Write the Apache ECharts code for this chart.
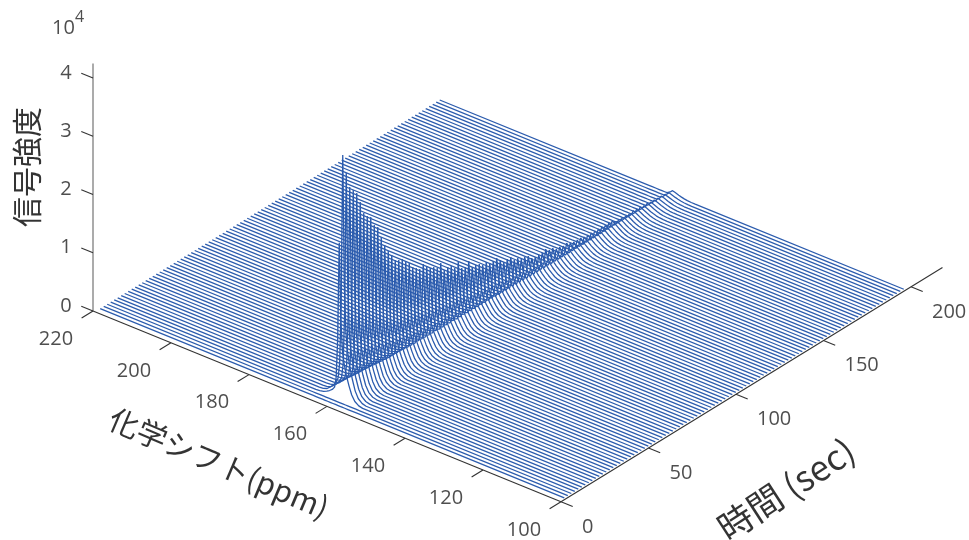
<!DOCTYPE html>
<html><head><meta charset="utf-8">
<style>html,body{margin:0;padding:0;background:#fff}#c{width:969px;height:540px}</style>
<script src="https://cdn.jsdelivr.net/npm/echarts@6/dist/echarts.min.js"></script>
</head><body><div id="c"></div>
<script>
// ---- data ----
const ppmTicks = [220,200,180,160,140,120,100];
const timeTicks = [0,50,100,150,200];
const intensityTicks = [0,1,2,3,4];
const traceTimes = [3,5,7,9,11,13,15,17,19,21,23,25,27,29,31,33,35,37,39,41,43,45,47,49,51,53,55,57,59,61,63,65,67,69,71,73,75,77,79,81,83,85,87,89,91,93,95,97,99,101,103,105,107,109,111,113,115,117,119,121,123,125,127,129,131,133,135,137,139,141,143,145,147,149,151,153,155,157,159,161,163,165,167,169,171,173,175,177,179,181,183,185,187,189,191,193,195,197];
// peak height of each trace (signal intensity)
const peakHeights = [0,0,26800,41500,38030,35270,34380,33500,31590,29330,28440,27900,26160,25450,23350,21620,20220,19160,17930,17560,17370,16650,15940,14890,14350,13800,14290,13580,12870,12670,12130,12620,11050,11190,11000,10280,10950,9550,9350,10010,8610,8590,8390,7850,7990,7450,7430,7570,6860,6150,6290,6270,5380,5360,4820,4790,4590,3880,3680,3660,3630,3950,3410,3380,2840,2820,2620,2760,2400,2200,2170,2150,1950,1920,1890,1890,1800,1800,1720,1720,1800,1550,1550,1460,1370,1370,1290,1200,1200,1030,1120,940,940,860,860,770,770,770];
// part of each peak that is the broad right-hand foot
const footHeights = [0,0,8000,9300,9100,8900,8700,8500,8300,8100,7900,7700,7500,7300,7100,6900,6700,6500,6300,6200,6000,5900,5700,5600,5400,5300,5100,5000,4900,4800,4700,4600,4500,4400,4300,4200,4100,4000,3900,3800,3700,3650,3600,3500,3400,3350,3250,3200,3100,3050,2950,2900,2800,2750,2700,2650,2600,2550,2500,2450,2400,2350,2300,2250,2200,2150,2100,2050,2000,1950,1900,1880,1850,1850,1890,1890,1800,1800,1720,1720,1800,1550,1550,1460,1370,1370,1290,1200,1200,1030,1120,940,940,860,860,770,770,770];
const peakPpm = 160;
const lineOffsets = [-6,-5,-4,-3.2,-2.5,-1.8,-1.2,-0.8,-0.4,-0.2,0,0.2,0.4,0.8,1.2,1.8,2.5,3.2,4,5,6];
const narrowShape = [0,0.002,0.01,0.025,0.04,0.06,0.09,0.14,0.35,0.7,1,0.7,0.35,0.12,0.06,0.03,0.015,0.005,0,0,0];
const footShape = [0,0,0,0,0,0,0,0.1,0.45,0.75,1,0.95,0.9,0.8,0.68,0.5,0.33,0.18,0.08,0.02,0];
const ppmStart = 219.5, ppmEnd = 100.5;
const axisTimeMax = 218, axisIntensityMax = 42500;

// ---- oblique projection of (ppm, time, intensity) onto the page plane ----
function project(ppm, t, z) {
  const u = 220 - ppm;
  return [93 + 3.9*u + 1.75*t, 311 + 1.59*u - 1.075*t - z*58.25/10000];
}
const FONT = '"Open Sans"', CJK = '"Noto Sans CJK JP"';
const series = [];
traceTimes.forEach((t,i) => {
  const pts = [project(ppmStart,t,0)];
  const narrow = peakHeights[i]-footHeights[i];
  lineOffsets.forEach((d,j) => {
    pts.push(project(peakPpm-d,t,narrow*narrowShape[j]+footHeights[i]*footShape[j]));
  });
  pts.push(project(ppmEnd,t,0));
  series.push({type:'line',data:pts,showSymbol:false,symbol:'none',silent:true,animation:false,
    lineStyle:{color:'#2c5cae',width:1.3},z:2});
});
function seg(a,b,color){
  series.push({type:'line',data:[a,b],showSymbol:false,symbol:'none',silent:true,animation:false,
    lineStyle:{color:color,width:1.1},z:3});
}
seg(project(220,0,0),project(100,0,0),'#333');
seg(project(100,0,0),project(100,axisTimeMax,0),'#333');
seg(project(220,0,0),project(220,0,axisIntensityMax),'#666');
ppmTicks.forEach(p=>seg(project(p,0,0),project(p,-6.5,0),'#333'));
timeTicks.forEach(t=>seg(project(100,t,0),project(97,t,0),'#333'));
intensityTicks.forEach(z=>seg(project(220,0,z*10000),project(223,0,z*10000),'#333'));

function labels(items,size,family,align){
  series.push({type:'scatter',symbolSize:0,silent:true,animation:false,z:5,
    data:items.map(o=>({value:[o.x,o.y],label:{show:true,position:'inside',formatter:o.text,
      rotate:o.rotate||0,align:align,verticalAlign:'middle',fontSize:o.size||size,fontFamily:family,color:o.color||'#222'}}))});
}
labels(ppmTicks.map(p=>{const q=project(p,0,0);return {x:q[0]-37,y:q[1]+28,text:String(p)};}),20,FONT,'center');
labels(timeTicks.map(t=>{const q=project(100,t,0);return {x:q[0]+21,y:q[1]+25,text:String(t)};}),20,FONT,'left');
labels(intensityTicks.map(z=>{const q=project(220,0,z*10000);return {x:66,y:q[1]-5,text:String(z)};}),20,FONT,'center');
labels([{x:63.5,y:28,text:'10'},{x:79.5,y:17,text:'4',size:16}],20,FONT,'center');
labels([
  {x:219,y:463,text:'化学シフト(ppm)',rotate:-23,size:30,color:'#000'},
  {x:786,y:489,text:'時間 (sec)',rotate:33,size:35,color:'#000'},
  {x:27,y:167,text:'信号強度',rotate:90,size:30,color:'#000'}
],30,CJK,'center');

const chart = echarts.init(document.getElementById('c'),null,{renderer:'canvas'});
chart.setOption({
  animation:false,backgroundColor:'#fff',
  grid:{left:0,right:0,top:0,bottom:0},
  xAxis:{type:'value',min:0,max:969,show:false},
  yAxis:{type:'value',min:0,max:540,inverse:true,show:false},
  tooltip:{show:false},legend:{show:false},
  series:series
});
</script></body></html>
